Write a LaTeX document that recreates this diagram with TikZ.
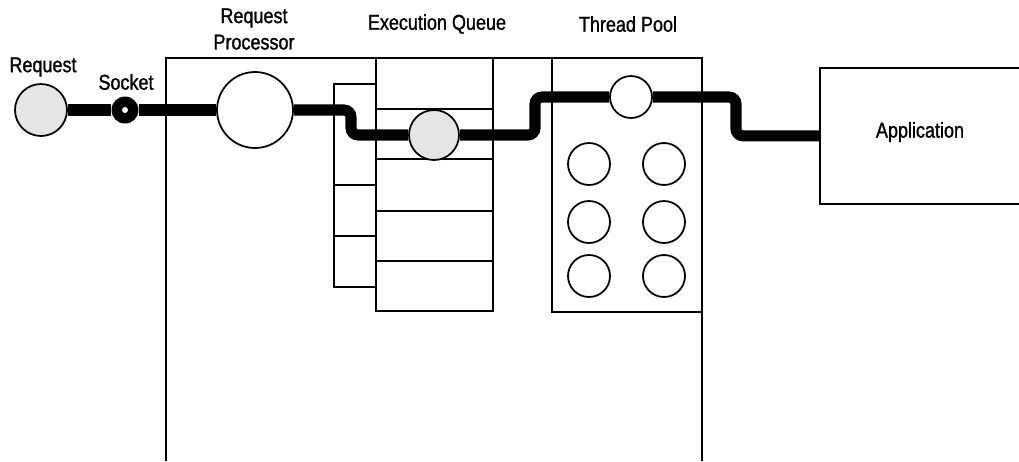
\documentclass[tikz,border=0pt]{standalone}
\usepackage{fontspec}
\setmainfont{Liberation Sans}[FakeStretch=0.84, FakeBold=1.2]
\usepackage{tikz}
\usetikzlibrary{positioning,calc}

\tikzset{
  box/.style={draw, line width=1pt},
  disc/.style={circle, draw, line width=1pt, fill=white, inner sep=0pt},
  job/.style={disc, fill=black!10},
  wire/.style={line width=6.3pt, rounded corners=4},
  lbl/.style={font=\fontsize{12.2}{15}\selectfont, inner sep=0pt, align=center}
}

\begin{document}
\begin{tikzpicture}[x=0.02cm, y=-0.02cm]
  \useasboundingbox (0,0) rectangle (1019,461);

  % Container (open at the bottom)
  \draw[box] (166,461) -- (166,58) -- (702,58) -- (702,461);

  % Execution queue slots
  \draw[box] (376,58) rectangle (493,311);
  \foreach \y in {109,159,211,261}
    \draw[box] (376,\y) -- (493,\y);
  \draw[box] (376,84) -- (334,84) -- (334,287) -- (376,287);
  \draw[box] (334,185) -- (376,185);
  \draw[box] (334,236) -- (376,236);

  % Thread pool
  \draw[box] (552,58) rectangle (702,312);

  % Application
  \node[box, minimum width=220*0.02cm, minimum height=136*0.02cm, anchor=north west] (app) at (819,67) {};
  \node[lbl] (applbl) at (920,132) {Application};

  % Nodes on the path
  \node[job, minimum size=52*0.02cm] (request) at (41,110) {};
  \node[circle, fill=black, minimum size=27*0.02cm, inner sep=0pt] (socket) at (125,110) {};
  \node[disc, minimum size=76*0.02cm] (proc) at (255,110) {};
  \node[job, minimum size=50*0.02cm] (qitem) at (434,135) {};
  \node[disc, minimum size=42*0.02cm] (worker) at (631,97) {};

  % Idle threads
  \foreach \c/\x in {1/589,2/664}
    \foreach \r/\y in {1/164,2/222,3/276}
      \node[disc, minimum size=42*0.02cm] (thr\r\c) at (\x,\y) {};

  % Bends of the request path
  \coordinate (b1) at (351,110);
  \coordinate (b2) at (535,135);
  \coordinate (b3) at (736,97);

  % Request path
  \draw[wire] (request) -- (socket) -- (proc);
  \draw[wire] (proc.east) -- (b1) -- (b1 |- qitem.west) -- (qitem.west);
  \draw[wire] (qitem.east) -- (b2) -- (b2 |- worker.east) -- (worker.west);
  \draw[wire] (worker.east) -- (b3) -- (b3 |- app.west) -- (app.west);
  \fill[white] (socket) circle (3*0.02cm);

  % Labels
  \node[lbl] (reqlbl) at (43,67) {Request};
  \node[lbl] (socklbl) at (126,82) {Socket};
  \node[lbl] (proclbl) at (254,29) {Request\\[0pt]Processor};
  \node[lbl] (queuelbl) at (437,24) {Execution Queue};
  \node[lbl] (poollbl) at (628,24) {Thread Pool};
\end{tikzpicture}
\end{document}
